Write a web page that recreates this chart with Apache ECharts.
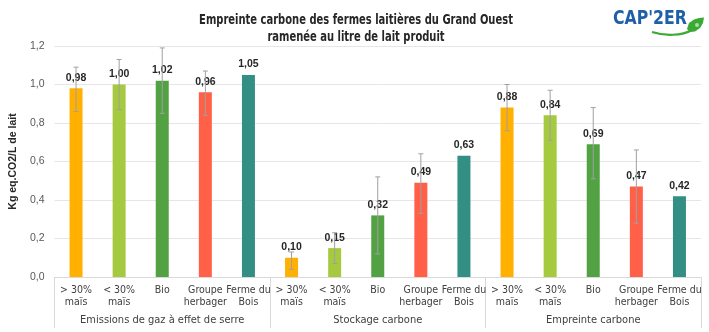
<!DOCTYPE html>
<html>
<head>
<meta charset="utf-8">
<script src="https://cdn.jsdelivr.net/npm/echarts@6/dist/echarts.min.js"></script>
<style>html,body{margin:0;padding:0;background:#fff}#c{width:709px;height:332px}</style>
</head>
<body>
<div id="c"></div>
<script>
const categories = ["> 30%\nmaïs","< 30%\nmaïs","Bio","Groupe\nherbager","Ferme du\nBois",
                    "> 30%\nmaïs","< 30%\nmaïs","Bio","Groupe\nherbager","Ferme du\nBois",
                    "> 30%\nmaïs","< 30%\nmaïs","Bio","Groupe\nherbager","Ferme du\nBois"];
const groups = ["Emissions de gaz à effet de serre","Stockage carbone","Empreinte carbone"];
const values = [0.98,1.00,1.02,0.96,1.05, 0.10,0.15,0.32,0.49,0.63, 0.88,0.84,0.69,0.47,0.42];
const errLow  = [0.86,0.87,0.85,0.84,null, 0.04,0.07,0.12,0.33,null, 0.76,0.71,0.51,0.28,null];
const errHigh = [1.09,1.13,1.19,1.07,null, 0.13,0.23,0.52,0.64,null, 1.00,0.97,0.88,0.66,null];
const yTicks = {min:0, max:1.2, interval:0.2};

const palette = ['#FFB000','#A5CA3F','#52A244','#FF6047','#338F83'];
const narrow = "'Liberation Sans Narrow','DejaVu Sans Condensed',sans-serif";
const chart = echarts.init(document.getElementById('c'));
const errData = categories.map((c,i)=> errLow[i]==null ? null : [i, errLow[i], errHigh[i]]).filter(d=>d);

chart.setOption({
  animation:false,
  grid:{left:47, right:8, top:46, bottom:55},
  xAxis:[{
    type:'category', data:categories,
    axisLine:{lineStyle:{color:'#d9d9d9'}},
    axisTick:{show:false},
    axisLabel:{interval:0, fontFamily:narrow, fontSize:10.5, lineHeight:12, color:'#404040', margin:7}
  },{
    type:'category', data:groups, position:'bottom',
    axisLine:{show:false},
    axisTick:{show:true, length:51, lineStyle:{color:'#d9d9d9'}},
    axisLabel:{interval:0, fontFamily:narrow, fontSize:11, color:'#404040', margin:38}
  }],
  yAxis:{
    type:'value', min:yTicks.min, max:yTicks.max, interval:yTicks.interval,
    name:'Kg eq.CO2/L de lait', nameLocation:'middle', nameGap:30, nameRotate:90,
    nameTextStyle:{fontFamily:'Liberation Sans, Arial, sans-serif', fontWeight:'bold', fontSize:10.5, color:'#262626'},
    axisLine:{show:false}, axisTick:{show:false},
    splitLine:{lineStyle:{color:'#e6e6e6'}},
    axisLabel:{fontFamily:'Liberation Sans, Arial, sans-serif', fontSize:10.5, color:'#595959', margin:10,
      formatter:v=>v.toFixed(1).replace('.',',')}
  },
  series:[{
    type:'bar', xAxisIndex:0, barWidth:13,
    data:values.map((v,i)=>({value:v, itemStyle:{color:palette[i%5]}})),
    label:{show:true, position:'top', distance:5, fontFamily:'Liberation Sans, Arial, sans-serif',
      fontWeight:'bold', fontSize:10.5, color:'#262626',
      formatter:p=>p.value.toFixed(2).replace('.',',')},
    z:2
  },{
    type:'custom', xAxisIndex:0, data:errData, z:3,
    renderItem:(params, api)=>{
      const lo = api.coord([api.value(0), api.value(1)]);
      const hi = api.coord([api.value(0), api.value(2)]);
      const st = {stroke:'#a0a0a0', lineWidth:1};
      return {type:'group', children:[
        {type:'line', shape:{x1:lo[0],y1:lo[1],x2:hi[0],y2:hi[1]}, style:st},
        {type:'line', shape:{x1:lo[0]-2.5,y1:lo[1],x2:lo[0]+2.5,y2:lo[1]}, style:st},
        {type:'line', shape:{x1:hi[0]-2.5,y1:hi[1],x2:hi[0]+2.5,y2:hi[1]}, style:st}
      ]};
    }
  }],
  graphic:[
    {type:'text', x:356, y:12, scaleX:0.82,
      style:{text:'Empreinte carbone des fermes laitières du Grand Ouest\nramenée au litre de lait produit',
        align:'center', fontFamily:narrow, fontWeight:'bold', fontSize:13.5, lineHeight:17, fill:'#262626'}},
    {type:'text', x:613, y:10, scaleX:0.92,
      style:{text:"CAP'2ER", fontFamily:narrow, fontWeight:'bold', fontSize:19, fill:'#1F5FA8'}},
    {type:'bezierCurve', shape:{x1:652,y1:32,x2:692,y2:30,cpx1:664,cpy1:36,cpx2:682,cpy2:36}, style:{stroke:'#3BAA35', lineWidth:2.2, fill:null}},
    {type:'polygon', shape:{points:[[687,29],[689,23],[694,19.5],[699,18],[704,17.5],[703,23],[700,28],[695,31.5],[690,32]]}, style:{fill:'#3BAA35'}},
    {type:'circle', shape:{cx:697, cy:25, r:2}, style:{fill:'#A8DCA3'}}
  ]
});
</script>
</body>
</html>
